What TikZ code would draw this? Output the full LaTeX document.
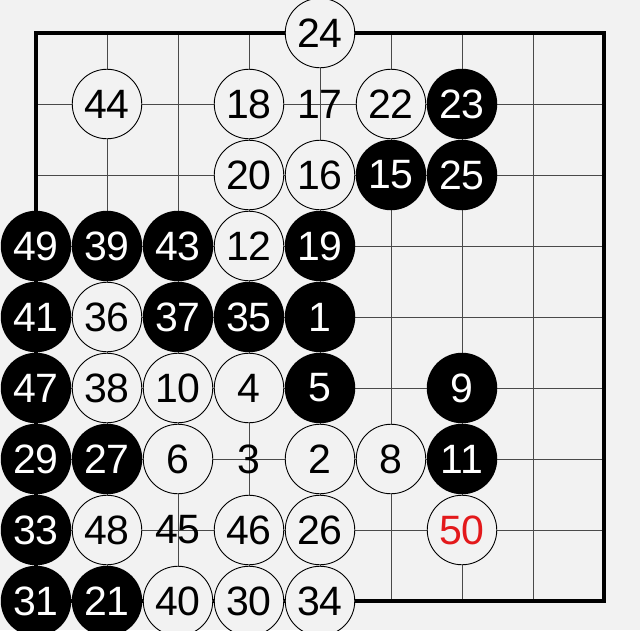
\documentclass[tikz,border=0pt]{standalone}
\usepackage{fontspec}
\setmainfont{Liberation Sans}
\definecolor{bg}{HTML}{F2F2F2}
\definecolor{gridc}{HTML}{4A4A4A}
\definecolor{redtxt}{HTML}{E3191B}
\begin{document}
\begin{tikzpicture}[x=1pt,y=-1pt,
  numfont/.style={font=\fontsize{41}{41}\selectfont},
  stoneW/.style={circle,draw=black,line width=0.9pt,fill=bg,minimum size=69.5pt,inner sep=0pt,numfont},
  stoneB/.style={circle,fill=black,minimum size=70.5pt,inner sep=0pt,text=white,numfont},
  plainnum/.style={inner sep=0pt,numfont},
  gridline/.style={draw=gridc,line width=0.9pt},
  edge/.style={draw=black,line width=4pt}]
\useasboundingbox (0,0) rectangle (640,630);
\fill[bg] (0,0) rectangle (640,630);
\clip (0,0) rectangle (640,630);
% grid
\foreach \i in {1,...,7} {
  \draw[gridline] ({36+71*\i},33) -- ({36+71*\i},601);
  \draw[gridline] (36,{33+71*\i}) -- (604,{33+71*\i});
}
\draw[edge] (36,33) rectangle (604,601);
% plain numbers (no stone)
\foreach \n/\c/\r in {17/4/1, 3/3/6, 45/2/7}
  \node[plainnum] (p\n) at ({36+71*\c},{33+71*\r}) {\n};
% white stones
\foreach \n/\c/\r in {24/4/0, 44/1/1, 18/3/1, 22/5/1, 20/3/2, 16/4/2, 12/3/3,
  36/1/4, 38/1/5, 10/2/5, 4/3/5, 6/2/6, 2/4/6, 8/5/6, 48/1/7, 46/3/7, 26/4/7,
  40/2/8, 30/3/8, 34/4/8}
  \node[stoneW] (s\n) at ({36+71*\c},{33+71*\r}) {\n};
\node[stoneW,text=redtxt] (s50) at ({36+71*6},{33+71*7}) {50};
% black stones
\foreach \n/\c/\r in {23/6/1, 15/5/2, 25/6/2, 49/0/3, 39/1/3, 43/2/3, 19/4/3,
  41/0/4, 37/2/4, 35/3/4, 1/4/4, 47/0/5, 5/4/5, 9/6/5, 29/0/6, 27/1/6, 11/6/6,
  33/0/7, 31/0/8, 21/1/8}
  \node[stoneB] (s\n) at ({36+71*\c},{33+71*\r}) {\n};
\end{tikzpicture}
\end{document}
